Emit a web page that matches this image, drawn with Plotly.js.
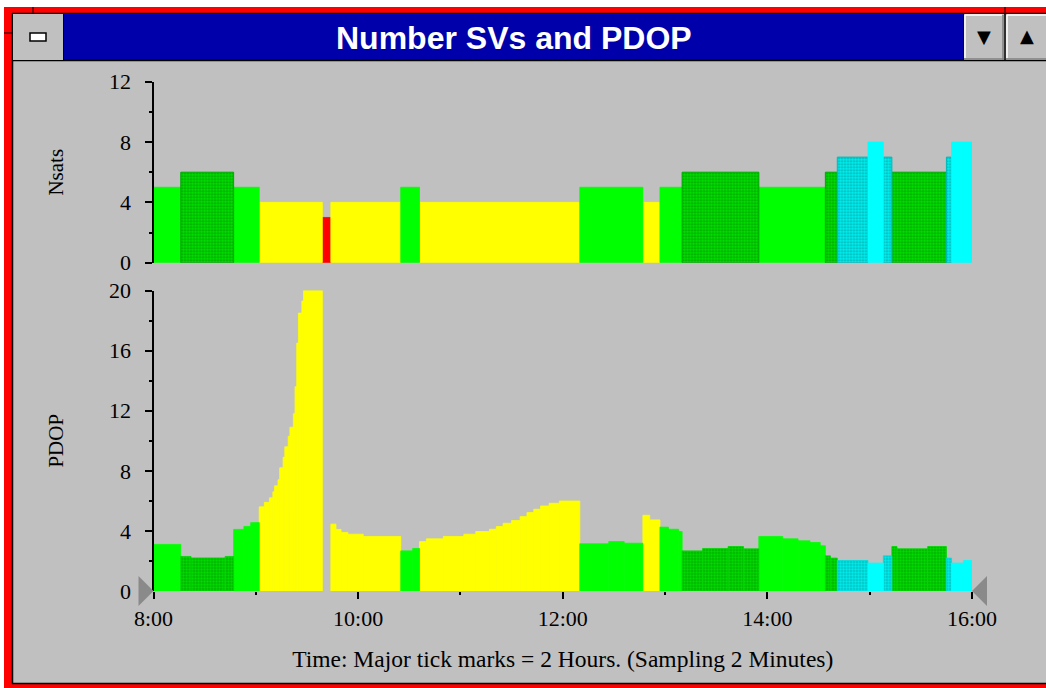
<!DOCTYPE html>
<html><head><meta charset="utf-8">
<script src="https://cdn.plot.ly/plotly-3.0.1.min.js"></script>
<style>html,body{margin:0;padding:0;background:#fff;overflow:hidden}#chart{width:1046px;height:688px}</style>
</head><body><div id="chart"></div>
<script>
// ---------------- data ----------------
const chartTitle = "Number SVs and PDOP";
const satTitle = "Nsats";
const pdopTitle = "PDOP";
const xTitle = "Time: Major tick marks = 2 Hours. (Sampling 2 Minutes)";

// number of satellites: segment start times and counts
const satStart = ["8:00","8:16","8:47","9:02","9:39","9:44","10:25","10:36","12:10","12:47","12:57","13:10","13:55","14:34","14:41","14:59","15:08","15:13","15:45","15:48"];
const satCount = [5,6,5,4,3,4,5,4,5,4,5,6,5,6,7,8,7,6,7,8];

// PDOP: step start times and values (null = no solution)
const pdopStart = ["8:00","8:16","8:22","8:42","8:47","8:53","8:57",
  "9:02","9:05","9:08","9:10","9:11","9:13","9:14","9:16","9:17","9:19","9:20","9:22","9:23","9:24","9:25","9:27","9:28",
  "9:39",
  "9:44","9:47","9:50","9:54","10:03",
  "10:25","10:32",
  "10:36","10:40","10:50","11:02","11:09","11:17","11:21","11:25","11:30","11:35","11:39","11:43","11:47","11:52","11:58",
  "12:10","12:27","12:36",
  "12:47","12:51",
  "12:57","13:02","13:08",
  "13:10","13:22","13:37","13:46",
  "13:55","14:09","14:18","14:25","14:31",
  "14:34","14:37",
  "14:41","14:59","15:08",
  "15:13","15:16","15:34",
  "15:45","15:48","15:55"];
const pdopValue = [3.1,2.3,2.2,2.3,4.1,4.3,4.55,
  5.6,5.9,6.2,6.6,7.0,7.4,8.2,8.9,9.6,10.3,10.9,11.8,13.6,16.5,18.5,19.3,20,
  null,
  4.45,4.1,3.9,3.78,3.63,
  2.67,2.83,
  3.29,3.47,3.63,3.78,3.96,4.11,4.29,4.51,4.69,4.95,5.22,5.44,5.66,5.84,5.99,
  3.14,3.29,3.18,
  5.04,4.73,
  4.25,4.11,3.96,
  2.67,2.83,2.96,2.81,
  3.63,3.47,3.34,3.23,3.01,
  2.34,2.19,
  2.03,1.86,2.34,
  2.96,2.81,2.96,
  2.19,1.86,2.03];
const endTime = "16:00";

const xTickVals = ["8:00","10:00","12:00","14:00","16:00"];
const xTickText = ["8:00","10:00","12:00","14:00","16:00"];
const xMinorVals = ["9:00","11:00","13:00","15:00"];
const satTicks = [0,4,8,12];
const satMinor = [2,6,10];
const pdopTicks = [0,4,8,12,16,20];
const pdopMinor = [2,6,10,14,18];

// ---------------- helpers ----------------
const W = 1046, Hh = 688;
const H = t => { const p = t.split(':').map(Number); return p[0] + p[1]/60; };
const fx = px => px / W;
const fy = py => 1 - py / Hh;
const serif = 'Liberation Serif, Times New Roman, serif';

const style = {
  3: {color:'#ff0000'},
  4: {color:'#ffff00'},
  5: {color:'#00ff00'},
  6: {color:'#00d000', pattern:{shape:'.', fgcolor:'#009800', bgcolor:'#00e000', size:3, solidity:0.35}, line:'#00a800', seam:'#00d400'},
  7: {color:'#00e0e0', pattern:{shape:'.', fgcolor:'#00a8a8', bgcolor:'#00f0f0', size:3, solidity:0.35}, line:'#00b8b8', seam:'#00dcdc'},
  8: {color:'#00ffff'}
};
function countAt(h){
  let c = satCount[0];
  satStart.forEach((s,i)=>{ if (H(s) <= h + 1e-9) c = satCount[i]; });
  return c;
}
function barTrace(x,y,w,lv,xa,ya,outline){
  const st = style[lv];
  let line;
  if (st.pattern) line = outline ? {color: st.line, width: 1} : {color: st.seam, width: 0.8};
  else line = {color: st.color, width: 0.8};
  const marker = {color: st.color, line: line};
  if (st.pattern) marker.pattern = Object.assign({fillmode:'replace'}, st.pattern);
  return {type:'bar', x:x, y:y, width:w, offset:0, xaxis:xa, yaxis:ya, marker:marker, hoverinfo:'skip', showlegend:false};
}
const traces = [];
[3,4,5,6,7,8].forEach(lv => {
  const x=[],w=[],y=[];
  satStart.forEach((s,i)=>{
    if (satCount[i] !== lv) return;
    const a = H(s), b = H(i+1 < satStart.length ? satStart[i+1] : endTime);
    x.push(a); w.push(b-a); y.push(satCount[i]);
  });
  if (x.length) traces.push(barTrace(x,y,w,lv,'x','y',true));
  const px=[],pw=[],py=[];
  pdopStart.forEach((s,i)=>{
    if (pdopValue[i] === null) return;
    const a = H(s);
    if (countAt(a) !== lv) return;
    const b = H(i+1 < pdopStart.length ? pdopStart[i+1] : endTime);
    px.push(a); pw.push(b-a); py.push(pdopValue[i]);
  });
  if (px.length) traces.push(barTrace(px,py,pw,lv,'x2','y2',false));
});

// ---------------- layout ----------------
const X0 = 153.5, X1 = 972, YB = 591;
const tickFont = {family: serif, size: 22, color:'#000'};
const shapes = [];
const rect = (x0,y0,x1,y1,fill) => shapes.push({type:'rect', xref:'paper', yref:'paper', x0:fx(x0), x1:fx(x1), y0:fy(y1), y1:fy(y0), fillcolor:fill, line:{width:0}, layer:'below'});
const lineS = (x0,y0,x1,y1,c,wd) => shapes.push({type:'line', xref:'paper', yref:'paper', x0:fx(x0), x1:fx(x1), y0:fy(y0), y1:fy(y1), line:{color:c,width:wd}, layer:'below'});
// window frame
rect(0,0,W,7,'#ffffff');
rect(0,0,4,Hh,'#ffffff');
rect(4,7,W,13,'#ff0000');
rect(4,7,12,Hh,'#ff0000');
rect(4,684,W,Hh,'#ff0000');
lineS(12.5,13,12.5,684,'#000000',1.5);
lineS(12,13.5,W,13.5,'#000000',1.5);
lineS(12,683.5,W,683.5,'#000000',1.5);
lineS(33,7,33,13,'#000000',1);
lineS(1005,7,1005,13,'#000000',1);
lineS(4,33,12,33,'#000000',1);
// title bar
rect(64,14,963,60,'#0000aa');
lineS(12,60.5,W,60.5,'#000000',1.5);
// left button
rect(13,14,63,60,'#c0c0c0');
lineS(63.5,14,63.5,60,'#000000',1);
rect(30,33,46,41,'#ffffff');
shapes.push({type:'rect', xref:'paper', yref:'paper', x0:fx(30), x1:fx(46), y0:fy(41), y1:fy(33), line:{color:'#000',width:1.5}, fillcolor:'rgba(0,0,0,0)', layer:'below'});
// right buttons
rect(964,14,1004,60,'#c0c0c0');
lineS(963.5,14,963.5,60,'#000000',1);
lineS(965,15,1002,15,'#ffffff',1.5);
lineS(965,15,965,58,'#ffffff',1.5);
lineS(964,59,1004,59,'#808080',1.5);
lineS(1003,15,1003,60,'#808080',1.5);
lineS(1005,14,1005,60,'#000000',1.5);
rect(1006,14,W,60,'#c0c0c0');
lineS(1007,15,W,15,'#ffffff',1.5);
lineS(1007,15,1007,58,'#ffffff',1.5);
lineS(1006,59,W,59,'#808080',1.5);
// axis end triangles (decoration at both ends of the time axis)
shapes.push({type:'path', xref:'paper', yref:'paper', xsizemode:'pixel', ysizemode:'pixel', xanchor:fx(X0), yanchor:fy(YB), path:'M -15,15 L 0,0 L -15,-15 Z', fillcolor:'#8a8a8a', line:{width:0}});
shapes.push({type:'path', xref:'paper', yref:'paper', xsizemode:'pixel', ysizemode:'pixel', xanchor:fx(X1), yanchor:fy(YB), path:'M 15,15 L 0,0 L 15,-15 Z', fillcolor:'#8a8a8a', line:{width:0}});

const layout = {
  width: W, height: Hh,
  margin: {l:0, r:0, t:0, b:0, pad:0},
  paper_bgcolor: '#c0c0c0',
  plot_bgcolor: 'rgba(0,0,0,0)',
  barmode: 'overlay', bargap: 0,
  showlegend: false,
  xaxis: {domain:[fx(X0), fx(X1)], range:[8,16], anchor:'y', visible:false, fixedrange:true},
  xaxis2: {domain:[fx(X0), fx(X1)], range:[8,16], anchor:'y2', fixedrange:true,
    tickmode:'array', tickvals: xTickVals.map(H), ticktext: xTickText,
    ticks:'outside', ticklen:7, tickwidth:2, tickcolor:'#000',
    minor:{tickmode:'array', tickvals: xMinorVals.map(H), ticks:'outside', ticklen:3, tickwidth:2, tickcolor:'#000', showgrid:false},
    showline:false, showgrid:false, zeroline:false,
    tickfont: tickFont, ticklabelstandoff: 1,
    title:{text: xTitle, font:{family: serif, size: 23.5, color:'#000'}, standoff: 20}, automargin:false},
  yaxis: {domain:[fy(262.7), fy(81.7)], range:[0,12], anchor:'x', fixedrange:true,
    tickmode:'array', tickvals: satTicks, ticks:'outside', ticklen:7, tickwidth:2, tickcolor:'#000',
    minor:{tickmode:'array', tickvals: satMinor, ticks:'outside', ticklen:3, tickwidth:2, tickcolor:'#000', showgrid:false},
    showline:true, linecolor:'#000', linewidth:2, showgrid:false, zeroline:false,
    tickfont: tickFont, ticklabelstandoff: 9,
    title:{text: satTitle, font:{family: serif, size: 21, color:'#000'}, standoff: 40}, automargin:false},
  yaxis2: {domain:[fy(YB), fy(290.5)], range:[0,20], anchor:'x2', fixedrange:true,
    tickmode:'array', tickvals: pdopTicks, ticks:'outside', ticklen:7, tickwidth:2, tickcolor:'#000',
    minor:{tickmode:'array', tickvals: pdopMinor, ticks:'outside', ticklen:3, tickwidth:2, tickcolor:'#000', showgrid:false},
    showline:true, linecolor:'#000', linewidth:2, showgrid:false, zeroline:false,
    tickfont: tickFont, ticklabelstandoff: 9,
    title:{text: pdopTitle, font:{family: serif, size: 21, color:'#000'}, standoff: 40}, automargin:false},
  shapes: shapes,
  annotations: [
    {text: chartTitle, xref:'paper', yref:'paper', x: fx(514), y: fy(38), xanchor:'center', yanchor:'middle', showarrow:false,
     font:{family:'Liberation Sans, Arial, sans-serif', size:32, color:'#ffffff', weight:'bold'}},
    {text:'▼', xref:'paper', yref:'paper', x: fx(984), y: fy(37), xanchor:'center', yanchor:'middle', showarrow:false, font:{family:'DejaVu Sans', size:18, color:'#000'}},
    {text:'▲', xref:'paper', yref:'paper', x: fx(1027), y: fy(36), xanchor:'center', yanchor:'middle', showarrow:false, font:{family:'DejaVu Sans', size:18, color:'#000'}}
  ]
};
Plotly.newPlot('chart', traces, layout, {staticPlot:true, displayModeBar:false});
</script></body></html>
